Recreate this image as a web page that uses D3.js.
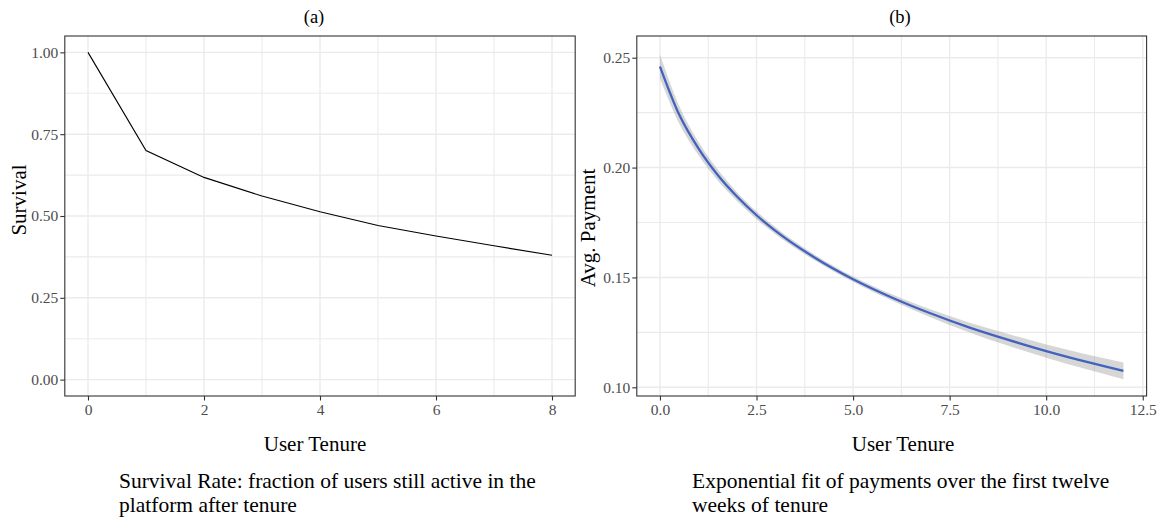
<!DOCTYPE html>
<html>
<head>
<meta charset="utf-8">
<script src="https://cdn.jsdelivr.net/npm/d3@7"></script>
<style>
    body { margin: 0; background: #fff; }
    svg text { font-family: "Liberation Serif", "DejaVu Serif", serif; }
    .grid-major { stroke: #ebebeb; stroke-width: 1.4; }
    .grid-minor { stroke: #ebebeb; stroke-width: 1.1; }
    .tick text { fill: #4d4d4d; font-size: 15.5px; }
    .tick line { stroke: #333; stroke-width: 1.1; }
    .domain { display: none; }
</style>
</head>
<body>
<div id="chart"></div>
<script>

// (a) survival by week of tenure
var survivalTenure = [0, 1, 2, 3, 4, 5, 6, 7, 8];
var survivalRate = [1.00, 0.70, 0.618, 0.561, 0.513, 0.471, 0.439, 0.409, 0.380];

// (b) fitted avg. payment with its confidence band
var paymentTenure = [0, 0.5, 1, 1.5, 2, 2.5, 3, 4, 5, 6, 7, 8, 9, 10, 11, 12];
var paymentFit = [0.246, 0.224, 0.2086, 0.1965, 0.1867, 0.1783, 0.1711, 0.1591, 0.1492, 0.1409, 0.1337, 0.1273, 0.1217, 0.1165, 0.1118, 0.1075];
var paymentUpper = [0.2515, 0.2280, 0.2116, 0.1990, 0.1887, 0.1801, 0.1727, 0.1604, 0.1504, 0.1423, 0.1355, 0.1295, 0.1244, 0.1195, 0.1152, 0.1113];
var paymentLower = [0.2405, 0.2200, 0.2056, 0.1940, 0.1847, 0.1765, 0.1695, 0.1578, 0.1480, 0.1395, 0.1319, 0.1251, 0.1190, 0.1135, 0.1084, 0.1037];

// tick labels
var survivalXTicks = [0, 2, 4, 6, 8];
var survivalXMinor = [1, 3, 5, 7];
var survivalYTicks = [0, 0.25, 0.5, 0.75, 1];
var survivalYMinor = [0.125, 0.375, 0.625, 0.875];
var paymentXTicks = [0, 2.5, 5, 7.5, 10, 12.5];
var paymentXMinor = [1.25, 3.75, 6.25, 8.75, 11.25];
var paymentYTicks = [0.10, 0.15, 0.20, 0.25];
var paymentYMinor = [0.125, 0.175, 0.225];

var captionA = ["Survival Rate: fraction of users still active in the", "platform after tenure"];
var captionB = ["Exponential fit of payments over the first twelve", "weeks of tenure"];

var svg = d3.select("#chart").append("svg")
    .attr("width", 1164)
    .attr("height", 519);

/*
 * PanelVis - one ggplot-like panel
 */
PanelVis = function(_opts) {
    this.opts = _opts;
    this.initVis();
}

PanelVis.prototype.initVis = function() {
    var vis = this;
    var o = vis.opts;

    vis.x = d3.scaleLinear().domain(o.xDomain).range([o.left, o.right]);
    vis.y = d3.scaleLinear().domain(o.yDomain).range([o.bottom, o.top]);

    vis.g = svg.append("g");

    // grid lines, minor first
    vis.g.selectAll(".gx-minor").data(o.xMinor).enter().append("line")
        .attr("class", "grid-minor")
        .attr("x1", d => vis.x(d)).attr("x2", d => vis.x(d))
        .attr("y1", o.top).attr("y2", o.bottom);
    vis.g.selectAll(".gy-minor").data(o.yMinor).enter().append("line")
        .attr("class", "grid-minor")
        .attr("y1", d => vis.y(d)).attr("y2", d => vis.y(d))
        .attr("x1", o.left).attr("x2", o.right);
    vis.g.selectAll(".gx-major").data(o.xTicks).enter().append("line")
        .attr("class", "grid-major")
        .attr("x1", d => vis.x(d)).attr("x2", d => vis.x(d))
        .attr("y1", o.top).attr("y2", o.bottom);
    vis.g.selectAll(".gy-major").data(o.yTicks).enter().append("line")
        .attr("class", "grid-major")
        .attr("y1", d => vis.y(d)).attr("y2", d => vis.y(d))
        .attr("x1", o.left).attr("x2", o.right);

    o.draw(vis);

    // panel border
    vis.g.append("rect")
        .attr("x", o.left).attr("y", o.top)
        .attr("width", o.right - o.left).attr("height", o.bottom - o.top)
        .attr("fill", "none").attr("stroke", "#333").attr("stroke-width", 1.1);

    // axes
    var xAxis = d3.axisBottom(vis.x).tickValues(o.xTicks).tickFormat(o.xFormat)
        .tickSize(4.5).tickPadding(3);
    vis.g.append("g").attr("transform", "translate(0," + o.bottom + ")").call(xAxis)
        .attr("font-family", "Liberation Serif").attr("font-size", null);

    var yAxis = d3.axisLeft(vis.y).tickValues(o.yTicks).tickFormat(d3.format(".2f"))
        .tickSize(4.5).tickPadding(2);
    vis.g.append("g").attr("transform", "translate(" + o.left + ",0)").call(yAxis)
        .attr("font-family", "Liberation Serif").attr("font-size", null);

    vis.g.selectAll(".tick text")
        .style("font-family", "'Liberation Serif', serif");

    // titles
    vis.g.append("text")
        .attr("x", o.titleX).attr("y", 23)
        .attr("text-anchor", "middle").style("font-size", "18.5px")
        .text(o.title);

    vis.g.append("text")
        .attr("x", o.xLabelX).attr("y", 450.5)
        .attr("text-anchor", "middle").style("font-size", "21px")
        .text("User Tenure");

    vis.g.append("text")
        .attr("transform", "translate(" + o.yLabelX + "," + o.yLabelY + ") rotate(-90)")
        .attr("text-anchor", "middle").style("font-size", "21px")
        .text(o.yLabel);

    vis.g.selectAll(".caption").data(o.caption).enter().append("text")
        .attr("x", o.captionX)
        .attr("y", (d, i) => 488 + i * 24)
        .style("font-size", "21.5px")
        .text(d => d);
}

var panelA = new PanelVis({
    left: 64.8, right: 575.2, top: 36, bottom: 396,
    xDomain: [-0.4, 8.4], yDomain: [-0.05, 1.05],
    xTicks: survivalXTicks, xMinor: survivalXMinor,
    yTicks: survivalYTicks, yMinor: survivalYMinor,
    xFormat: d3.format("d"),
    title: "(a)", titleX: 314,
    xLabelX: 315,
    yLabel: "Survival", yLabelX: 25.5, yLabelY: 200,
    caption: captionA, captionX: 119,
    draw: function(vis) {
        var line = d3.line()
            .x((d, i) => vis.x(survivalTenure[i]))
            .y(d => vis.y(d));
        vis.g.append("path")
            .datum(survivalRate)
            .attr("d", line)
            .attr("fill", "none")
            .attr("stroke", "#000")
            .attr("stroke-width", 1.1);
    }
});

var panelB = new PanelVis({
    left: 636.8, right: 1146.6, top: 36, bottom: 396,
    xDomain: [-0.6, 12.6], yDomain: [0.09604, 0.25988],
    xTicks: paymentXTicks, xMinor: paymentXMinor,
    yTicks: paymentYTicks, yMinor: paymentYMinor,
    xFormat: d3.format(".1f"),
    title: "(b)", titleX: 900,
    xLabelX: 903,
    yLabel: "Avg. Payment", yLabelX: 594.5, yLabelY: 228,
    caption: captionB, captionX: 692,
    draw: function(vis) {
        var band = d3.area()
            .x((d, i) => vis.x(paymentTenure[i]))
            .y0((d, i) => vis.y(paymentLower[i]))
            .y1((d, i) => vis.y(paymentUpper[i]))
            .curve(d3.curveMonotoneX);
        vis.g.append("path")
            .datum(paymentFit)
            .attr("d", band)
            .attr("fill", "#999")
            .attr("fill-opacity", 0.4);

        var line = d3.line()
            .x((d, i) => vis.x(paymentTenure[i]))
            .y(d => vis.y(d))
            .curve(d3.curveMonotoneX);
        vis.g.append("path")
            .datum(paymentFit)
            .attr("d", line)
            .attr("fill", "none")
            .attr("stroke", "#4262bf")
            .attr("stroke-width", 2.3);
    }
});

</script>
</body>
</html>
